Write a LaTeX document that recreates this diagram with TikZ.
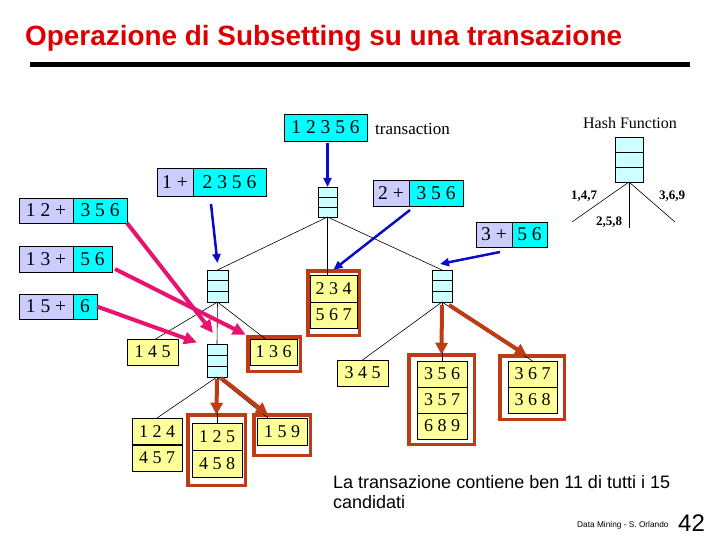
\documentclass[tikz,border=0pt]{standalone}
\usepackage{fontspec}
\setmainfont{Liberation Serif}
\newfontfamily\arialf{Liberation Sans}
\usetikzlibrary{arrows.meta,calc}
\definecolor{hcy}{RGB}{204,255,255}
\definecolor{cy}{RGB}{0,255,255}
\definecolor{lav}{RGB}{204,204,255}
\definecolor{leafy}{RGB}{255,255,153}
\definecolor{brn}{RGB}{190,60,20}
\definecolor{blu}{RGB}{10,10,200}
\definecolor{pnk}{RGB}{230,20,110}
\definecolor{ttl}{RGB}{220,0,0}
\newcommand\mybox[7]{\node[#6, minimum width={(#4)-(#2)}, minimum height={(#5)-(#3)}] (#1) at ({((#2)+(#4))/2},{((#3)+(#5))/2}) {#7};}
\begin{document}
\begin{tikzpicture}[x=1pt,y=-1pt,
  rect/.style={draw, inner sep=0pt, outer sep=0pt, line width=0.6pt},
  hashn/.style={rect, fill=hcy, path picture={
     \foreach \f in {0.3333,0.6667}
       \draw[line width=0.6pt] ($(path picture bounding box.north west)!\f!(path picture bounding box.south west)$) -- ($(path picture bounding box.north east)!\f!(path picture bounding box.south east)$);}},
  lavb/.style={rect, fill=lav, font=\fontsize{19.5}{21}\selectfont},
  cyb/.style={rect, fill=cy, font=\fontsize{19.5}{21}\selectfont},
  leaf/.style={rect, fill=leafy, font=\fontsize{18}{20}\selectfont},
  frm/.style={draw=brn, line width=3.5pt, inner sep=0pt, outer sep=0pt},
  tl/.style={line width=0.6pt},
  barr/.style={draw=blu, line width=2.5pt, -{Triangle[length=9pt,width=8pt]}},
  parr/.style={draw=pnk, line width=4pt, -{Triangle[length=13pt,width=12pt]}},
  brarr/.style={draw=brn, line width=4pt, -{Triangle[length=12pt,width=12pt]}},
  hlab/.style={font=\bfseries\fontsize{13}{15}\selectfont, inner sep=0pt}
]
\useasboundingbox (0,0) rectangle (720,540);

% title and bar
\node[anchor=base west, font=\arialf\bfseries\fontsize{27.9}{30}\selectfont, text=ttl, inner sep=0pt] (title) at (25,46) {Operazione di Subsetting su una transazione};
\node[fill=black, minimum width=660pt, minimum height=5pt, inner sep=0pt] (bar) at (360,65) {};

% transaction
\mybox{t}{284}{114}{367}{141}{cyb}{1 2 3 5 6}
\node[anchor=west, font=\fontsize{17}{19}\selectfont, inner sep=0pt] (ttext) at (375,129) {transaction};

% hash function legend
\node[font=\fontsize{16}{18}\selectfont, inner sep=0pt] (hft) at (630,123) {Hash Function};
\mybox{hf}{615}{137}{643}{182}{hashn}{}
\coordinate (h1) at (572,222);
\coordinate (h2) at (629,228);
\coordinate (h3) at (675,222);
\draw[tl] (hf.south) -- (h1);
\draw[tl] (hf.south) -- (h2);
\draw[tl] (hf.south) -- (h3);
\node[hlab] (k147) at (584,196) {1,4,7};
\node[hlab] (k369) at (672,196) {3,6,9};
\node[hlab] (k258) at (609,222) {2,5,8};

% hash tree nodes
\mybox{root}{318}{187}{337}{217}{hashn}{}
\mybox{L}{207}{270}{228}{302}{hashn}{}
\mybox{R}{432}{270}{452}{302}{hashn}{}
\mybox{LM}{207}{344}{227}{377}{hashn}{}

% frames
\mybox{f234}{307.75}{270.75}{359.25}{335.25}{frm}{}
\mybox{f136}{247.75}{336.75}{300.25}{371.25}{frm}{}
\mybox{f125}{187.75}{414.75}{245.25}{485.25}{frm}{}
\mybox{f159}{253.75}{414.75}{310.25}{455.25}{frm}{}
\mybox{f356}{408.75}{354.75}{474.25}{444.25}{frm}{}
\mybox{f367}{499.75}{355.75}{564.25}{419.25}{frm}{}

% leaves
\mybox{b234}{310}{275}{357}{302}{leaf}{2 3 4}
\mybox{b567}{310}{302}{357}{328}{leaf}{5 6 7}
\mybox{b136}{250}{339}{297}{365}{leaf}{1 3 6}
\mybox{b145}{127}{339}{178}{365}{leaf}{1 4 5}
\mybox{b124}{132}{418}{182}{445}{leaf}{1 2 4}
\mybox{b457}{132}{445}{182}{471}{leaf}{4 5 7}
\draw[line width=1.5pt] (b124.south west) -- (b124.south east);
\mybox{b125}{192}{423}{242}{450}{leaf}{1 2 5}
\mybox{b458}{192}{450}{242}{477}{leaf}{4 5 8}
\mybox{b159}{257}{418}{307}{445}{leaf}{1 5 9}
\mybox{b345}{337}{360}{388}{386}{leaf}{3 4 5}
\mybox{b356}{417}{361}{467}{387}{leaf}{3 5 6}
\mybox{b357}{417}{387}{467}{413}{leaf}{3 5 7}
\mybox{b689}{417}{413}{467}{439}{leaf}{6 8 9}
\mybox{b367}{508}{361}{557}{387}{leaf}{3 6 7}
\mybox{b368}{508}{387}{557}{413}{leaf}{3 6 8}

% label boxes
\mybox{l1a}{157}{168}{193}{196}{lavb}{1 +}
\mybox{l1b}{193}{168}{266}{196}{cyb}{2 3 5 6}
\mybox{l12a}{19}{198}{73}{223}{lavb}{1 2 +}
\mybox{l12b}{73}{198}{127}{223}{cyb}{3 5 6}
\mybox{l13a}{19}{246}{73}{272}{lavb}{1 3 +}
\mybox{l13b}{73}{246}{112}{272}{cyb}{5 6}
\mybox{l15a}{19}{294}{73}{319}{lavb}{1 5 +}
\mybox{l15b}{73}{294}{97}{319}{cyb}{6}
\mybox{l2a}{373}{180}{409}{206}{lavb}{2 +}
\mybox{l2b}{409}{180}{463}{206}{cyb}{3 5 6}
\mybox{l3a}{476}{222}{512}{247}{lavb}{3 +}
\mybox{l3b}{512}{222}{547}{247}{cyb}{5 6}

% tree edges
\draw[tl] (root.south) -- (L.north);
\draw[tl] (root.south) -- (root.south |- b234.north);
\draw[tl] (root.south) -- (R.north);
\draw[tl] (L.south) -- ([xshift=3pt]b145.north);
\draw[tl] (L.south) -- (LM.north);
\draw[tl] (L.south) -- ([xshift=-8pt]b136.north);
\draw[tl] (LM.south) -- (b124.north);
\draw[tl] (LM.south) -- (b125.north);
\draw[tl] (LM.south) -- ([xshift=-14pt]b159.north);
\draw[tl] (R.south) -- (b345.north);
\draw[tl] (R.south) -- (b356.north);
\draw[tl] (R.south) -- (b367.north);

% blue arrows
\draw[barr, shorten <=2pt] (t.south -| root.north) -- (root.north);
\coordinate (a1s) at (211,204);
\draw[barr] (a1s) -- ([yshift=7pt]L.north);
\draw[barr] ([xshift=1pt,yshift=-4pt]l2b.south west) -- ([yshift=1pt]f234.north);
\draw[barr] ([xshift=6pt,yshift=-5pt]l3a.south) -- ([xshift=-2pt,yshift=6pt]R.north);

% pink arrows
\draw[parr] (l12b.south east) -- ([xshift=-4pt,yshift=11pt]LM.north);
\draw[parr] ([xshift=3pt,yshift=3pt]l13b.south east) -- ([xshift=-2pt,yshift=2pt]f136.north west);
\draw[parr] (l15b.east) -- ([xshift=-10pt,yshift=18pt]LM.west);

% brown arrows
\draw[brarr, shorten <=2pt] (LM.south) -- (f125.north);
\draw[brarr] ([xshift=4pt,yshift=-1pt]LM.south) -- ([xshift=-14pt]f159.north);
\draw[brarr, shorten <=3pt] (R.south) -- (f356.north);
\draw[brarr] ([xshift=7pt,yshift=-3pt]R.south) -- ([xshift=-5pt]f367.north);

% footer
\node[anchor=base west, font=\arialf\fontsize{18}{20}\selectfont, inner sep=0pt] (foot1) at (333,488) {La transazione contiene ben 11 di tutti i 15};
\node[anchor=base west, font=\arialf\fontsize{18}{20}\selectfont, inner sep=0pt] (foot2) at (333,508) {candidati};
\node[anchor=base west, font=\arialf\fontsize{8.3}{10}\selectfont, inner sep=0pt] (dm) at (577,527) {Data Mining - S. Orlando};
\node[anchor=base west, font=\arialf\fontsize{24}{26}\selectfont, inner sep=0pt] (pg) at (678,531) {42};
\end{tikzpicture}
\end{document}
